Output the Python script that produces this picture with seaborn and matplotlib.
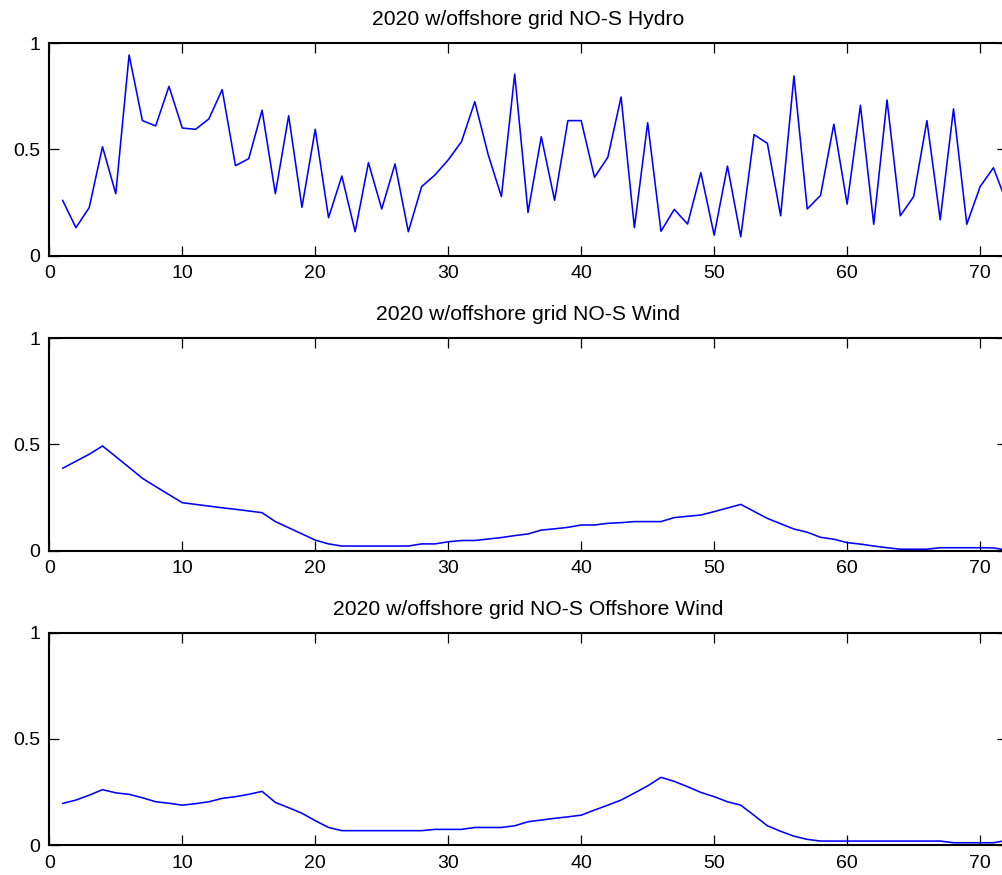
import numpy as np
import pandas as pd
import matplotlib
matplotlib.use("Agg")
import matplotlib.pyplot as plt
import seaborn as sns

# Hourly profiles (hours 1..72), normalised 0..1
hours = list(range(1, 73))

hydro = [0.261, 0.132, 0.226, 0.513, 0.292, 0.945, 0.636, 0.611, 0.797, 0.601,
         0.595, 0.644, 0.782, 0.424, 0.457, 0.685, 0.292, 0.659, 0.228, 0.595,
         0.179, 0.375, 0.113, 0.438, 0.220, 0.432, 0.113, 0.325, 0.380, 0.451,
         0.537, 0.725, 0.477, 0.278, 0.855, 0.204, 0.560, 0.261, 0.636, 0.636,
         0.369, 0.463, 0.747, 0.132, 0.626, 0.115, 0.218, 0.149, 0.391, 0.097,
         0.422, 0.089, 0.570, 0.529, 0.188, 0.846, 0.220, 0.284, 0.619, 0.243,
         0.708, 0.148, 0.733, 0.188, 0.278, 0.636, 0.169, 0.691, 0.148, 0.325,
         0.414, 0.250]

wind = [0.388, 0.421, 0.454, 0.493, 0.443, 0.392, 0.341, 0.302, 0.264, 0.226,
        0.218, 0.210, 0.202, 0.195, 0.187, 0.179, 0.137, 0.108, 0.079, 0.050,
        0.032, 0.022, 0.022, 0.022, 0.022, 0.022, 0.022, 0.032, 0.032, 0.042,
        0.048, 0.048, 0.055, 0.062, 0.071, 0.079, 0.097, 0.103, 0.110, 0.121,
        0.121, 0.129, 0.132, 0.137, 0.137, 0.137, 0.156, 0.162, 0.168, 0.184,
        0.201, 0.218, 0.185, 0.152, 0.127, 0.102, 0.087, 0.063, 0.054, 0.038,
        0.031, 0.022, 0.014, 0.007, 0.007, 0.007, 0.014, 0.014, 0.014, 0.014,
        0.013, 0.003]

offshore_wind = [0.196, 0.212, 0.235, 0.261, 0.246, 0.239, 0.223, 0.204, 0.197, 0.188,
                 0.195, 0.204, 0.220, 0.228, 0.239, 0.253, 0.201, 0.176, 0.150, 0.115,
                 0.083, 0.068, 0.068, 0.068, 0.068, 0.068, 0.068, 0.068, 0.074, 0.074,
                 0.074, 0.083, 0.083, 0.083, 0.091, 0.110, 0.118, 0.126, 0.133, 0.141,
                 0.165, 0.188, 0.212, 0.245, 0.279, 0.319, 0.300, 0.275, 0.248, 0.228,
                 0.204, 0.188, 0.140, 0.091, 0.065, 0.042, 0.027, 0.019, 0.019, 0.019,
                 0.019, 0.019, 0.019, 0.019, 0.019, 0.019, 0.019, 0.011, 0.011, 0.011,
                 0.011, 0.022]

titles = ["2020 w/offshore grid NO-S Hydro",
          "2020 w/offshore grid NO-S Wind",
          "2020 w/offshore grid NO-S Offshore Wind"]
series = [hydro, wind, offshore_wind]

x_ticks = [0, 10, 20, 30, 40, 50, 60, 70]
y_ticks = [0, 0.5, 1]
y_ticklabels = ["0", "0.5", "1"]

sns.set_theme(style="white")
plt.rcParams["font.family"] = ["Liberation Sans", "DejaVu Sans"]

W, H = 1003, 875
fig = plt.figure(figsize=(W / 100, H / 100), dpi=100)
fig.patch.set_facecolor("white")

left_px, right_px = 49.3, 1006.7
panel_tops = [43.3, 338.3, 632.7]
panel_h = 212.4

for top, title, values in zip(panel_tops, titles, series):
    ax = fig.add_axes([left_px / W, (H - top - panel_h) / H,
                       (right_px - left_px) / W, panel_h / H])
    df = pd.DataFrame({"hour": hours, "value": values})
    sns.lineplot(data=df, x="hour", y="value", ax=ax, color="#0000ff",
                 linewidth=1.15, estimator=None)
    ax.set_xlim(0, 72)
    ax.set_ylim(0, 1)
    ax.set_xticks(x_ticks)
    ax.set_xticklabels([str(t) for t in x_ticks])
    ax.set_yticks(y_ticks)
    ax.set_yticklabels(y_ticklabels)
    ax.set_xlabel("")
    ax.set_ylabel("")
    ax.set_title(title, fontsize=15.2, color="black", pad=13)
    ax.tick_params(axis="both", which="major", direction="in", length=7,
                   width=0.9, color="black", labelsize=14, labelcolor="black",
                   top=True, right=True, bottom=True, left=True)
    ax.tick_params(axis="y", pad=6.5)
    ax.tick_params(axis="x", pad=7)
    for side in ["left", "right", "top", "bottom"]:
        ax.spines[side].set_visible(True)
        ax.spines[side].set_color("black")
        ax.spines[side].set_linewidth(1.5)
    ax.set_facecolor("white")
    ax.grid(False)

fig.savefig("out.png", dpi=100, facecolor="white")
